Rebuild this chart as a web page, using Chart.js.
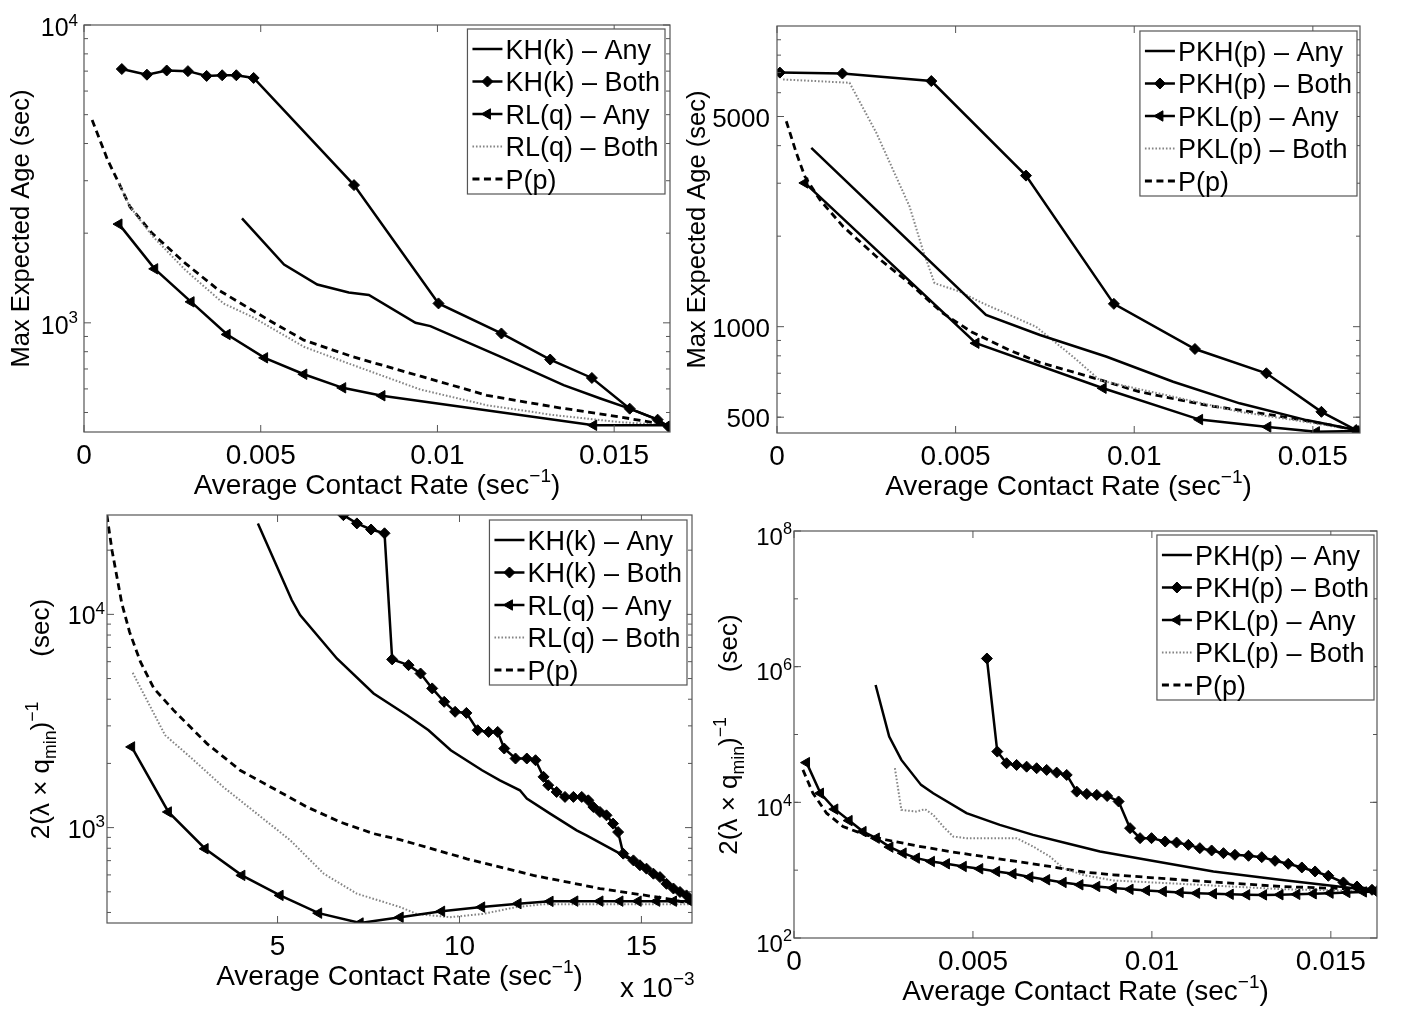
<!DOCTYPE html>
<html>
<head>
<meta charset="utf-8">
<script src="https://cdn.jsdelivr.net/npm/chart.js@4.4.1/dist/chart.umd.min.js"></script>
<style>
  html, body { margin: 0; padding: 0; background: #fff; }
  body { width: 1401px; height: 1011px; position: relative; overflow: hidden; }
  canvas { position: absolute; }
</style>
</head>
<body>
<canvas id="c1" width="680" height="505" style="left:0;top:0"></canvas>
<canvas id="c2" width="729" height="505" style="left:672px;top:0"></canvas>
<canvas id="c3" width="700" height="506" style="left:0;top:505px"></canvas>
<canvas id="c4" width="711" height="506" style="left:690px;top:505px"></canvas>
<script>
// ---- top left: max expected age, KH / RL
const p1Names = ['KH(k) – Any', 'KH(k) – Both', 'RL(q) – Any', 'RL(q) – Both', 'P(p)'];
const p1KhAnyX = [0.00447, 0.00566, 0.0066, 0.00749, 0.00806, 0.00938, 0.0098, 0.01178, 0.01357, 0.01461, 0.01544, 0.01623, 0.01654];
const p1KhAnyY = [2244, 1570, 1345, 1265, 1240, 1000, 975, 770, 618, 557, 515, 473, 448];
const p1KhBothX = [0.00107, 0.00178, 0.00234, 0.00294, 0.00347, 0.00391, 0.00431, 0.0048, 0.00764, 0.01003, 0.01181, 0.01319, 0.01437, 0.01544, 0.01623, 0.01654];
const p1KhBothY = [7115, 6810, 7035, 7000, 6745, 6780, 6780, 6640, 2900, 1162, 921, 753, 653, 515, 473, 448];
const p1RlAnyX = [0.00099, 0.002, 0.00303, 0.00405, 0.00511, 0.00622, 0.00732, 0.00843, 0.01442, 0.01654];
const p1RlAnyY = [2145, 1518, 1176, 914, 763, 672, 605, 569, 453, 453];
const p1RlBothX = [0.00099, 0.0013, 0.00193, 0.00287, 0.00395, 0.00476, 0.00622, 0.00749, 0.00952, 0.0114, 0.01329, 0.01517, 0.01654];
const p1RlBothY = [2940, 2455, 1960, 1503, 1161, 1047, 831, 730, 597, 529, 490, 464, 453];
const p1PX = [0.00023, 0.00067, 0.00099, 0.0013, 0.00193, 0.00287, 0.00381, 0.00523, 0.00622, 0.00761, 0.00952, 0.0114, 0.01329, 0.01517, 0.01654];
const p1PY = [4800, 3520, 2940, 2455, 1997, 1583, 1288, 1021, 875, 769, 662, 571, 522, 483, 453];
const p1XTicks = [0, 0.005, 0.01, 0.015];
const p1XLabels = ['0', '0.005', '0.01', '0.015'];
const p1YTicks = [1000, 10000];
const p1YLabels = ['10^3', '10^4'];

// ---- top right: max expected age, PKH / PKL
const p2Names = ['PKH(p) – Any', 'PKH(p) – Both', 'PKL(p) – Any', 'PKL(p) – Both', 'P(p)'];
const p2PkhAnyX = [0.00096, 0.00585, 0.00736, 0.00923, 0.01109, 0.01295, 0.01482, 0.01621];
const p2PkhAnyY = [3933, 1094, 938, 794, 656, 556, 489, 453];
const p2PkhBothX = [0.00008, 0.00183, 0.00432, 0.00697, 0.00943, 0.0117, 0.0137, 0.01524, 0.01621];
const p2PkhBothY = [6998, 6950, 6560, 3180, 1191, 843, 700, 521, 453];
const p2PklAnyX = [0.00078, 0.00557, 0.00913, 0.01183, 0.01374, 0.0151, 0.01621];
const p2PklAnyY = [3006, 881, 624, 491, 464, 447, 450];
const p2PklBothX = [0.00017, 0.00203, 0.00278, 0.00371, 0.00408, 0.00441, 0.00511, 0.00576, 0.00725, 0.00829, 0.00904, 0.01109, 0.01295, 0.01482, 0.01621];
const p2PklBothY = [6640, 6475, 4415, 2512, 1803, 1395, 1309, 1197, 1000, 794, 663, 585, 521, 482, 453];
const p2PX = [0.00026, 0.00054, 0.00078, 0.0012, 0.00185, 0.00278, 0.00371, 0.00464, 0.00545, 0.00656, 0.00736, 0.00876, 0.01016, 0.01202, 0.01388, 0.01528, 0.01621];
const p2PY = [4823, 3785, 3160, 2643, 2154, 1711, 1395, 1109, 960, 830, 760, 681, 607, 548, 508, 476, 453];
const p2XTicks = [0, 0.005, 0.01, 0.015];
const p2XLabels = ['0', '0.005', '0.01', '0.015'];
const p2YTicks = [500, 1000, 5000];
const p2YLabels = ['500', '1000', '5000'];

// ---- bottom left: 2(lambda x q_min)^-1, KH / RL
const p3KhAnyX = [0.00446, 0.00539, 0.00562, 0.00663, 0.00764, 0.00856, 0.00915, 0.00976, 0.01062, 0.01111, 0.01166, 0.01185, 0.01249, 0.01322, 0.01349, 0.0145, 0.01551, 0.01639];
const p3KhAnyY = [26700, 11670, 9930, 6210, 4256, 3365, 2862, 2306, 1857, 1667, 1496, 1368, 1163, 971, 920, 741, 586, 450];
const p3KhBothX = [0.00681, 0.00718, 0.00757, 0.00794, 0.00815, 0.0086, 0.00893, 0.00925, 0.00958, 0.00988, 0.01019, 0.0105, 0.0108, 0.01105, 0.01123, 0.01154, 0.01185, 0.01209, 0.01231, 0.01244, 0.01267, 0.0129, 0.01313, 0.01336, 0.01354, 0.01368, 0.01386, 0.01404, 0.01422, 0.01436, 0.0145, 0.01478, 0.01496, 0.01514, 0.01533, 0.01551, 0.01569, 0.01588, 0.01606, 0.01624, 0.01639];
const p3KhBothY = [29200, 26700, 25000, 24000, 6150, 5780, 5280, 4495, 3890, 3492, 3450, 2862, 2810, 2810, 2349, 2109, 2109, 2070, 1730, 1580, 1469, 1393, 1393, 1393, 1343, 1249, 1184, 1142, 1044, 953, 755, 702, 666, 642, 608, 586, 545, 518, 499, 481, 456];
const p3RlAnyX = [0.00099, 0.002, 0.00301, 0.00402, 0.00507, 0.00613, 0.00727, 0.00837, 0.00951, 0.01061, 0.01161, 0.01249, 0.01317, 0.01386, 0.01441, 0.01491, 0.01542, 0.01588, 0.01633];
const p3RlAnyY = [2390, 1184, 796, 597, 481, 397, 357, 380, 405, 424, 440, 451, 452, 452, 452, 452, 452, 452, 452];
const p3RlBothX = [0.00102, 0.00191, 0.0026, 0.00351, 0.00443, 0.00535, 0.00627, 0.00718, 0.00837, 0.00882, 0.00974, 0.01065, 0.01157, 0.0123, 0.01639];
const p3RlBothY = [5320, 2712, 2143, 1550, 1163, 872, 608, 490, 424, 394, 380, 394, 424, 437, 437];
const p3PX = [0.00031, 0.00045, 0.00072, 0.00093, 0.00123, 0.0016, 0.00214, 0.00306, 0.00397, 0.00489, 0.00581, 0.00672, 0.00764, 0.00836, 0.0102, 0.01203, 0.01386, 0.01569, 0.01639];
const p3PY = [29200, 20000, 11270, 8300, 6000, 4500, 3556, 2477, 1858, 1525, 1249, 1062, 937, 879, 714, 597, 518, 465, 440];
const p3XTicks = [0.005, 0.01, 0.015];
const p3XLabels = ['5', '10', '15'];
const p3YTicks = [1000, 10000];
const p3YLabels = ['10^3', '10^4'];

// ---- bottom right: 2(lambda x q_min)^-1, PKH / PKL
const p4PkhAnyX = [0.00228, 0.00266, 0.003, 0.00355, 0.00389, 0.00482, 0.00575, 0.00668, 0.00762, 0.00855, 0.00985, 0.01172, 0.01358, 0.01545, 0.01624];
const p4PkhAnyY = [536000, 93100, 42170, 18070, 13600, 6920, 4660, 3310, 2500, 1884, 1420, 957, 722, 556, 501];
const p4PkhBothX = [0.00539, 0.00568, 0.00594, 0.00622, 0.0065, 0.00678, 0.00706, 0.00734, 0.00762, 0.0079, 0.00818, 0.00846, 0.00875, 0.00907, 0.00939, 0.00967, 0.00999, 0.01037, 0.01069, 0.01102, 0.01134, 0.01167, 0.012, 0.01232, 0.0127, 0.01307, 0.01344, 0.01381, 0.01419, 0.01456, 0.01493, 0.01535, 0.01573, 0.01615, 0.01629];
const p4PkhBothY = [1320000, 56000, 37700, 35560, 33560, 31830, 30060, 27420, 25340, 14390, 13300, 12870, 12400, 10300, 4160, 2965, 2965, 2645, 2553, 2360, 2112, 1951, 1782, 1684, 1629, 1556, 1374, 1241, 1096, 957, 826, 659, 575, 514, 490];
const p4PklAnyX = [0.00035, 0.00074, 0.00114, 0.00154, 0.00193, 0.0023, 0.00268, 0.00305, 0.00342, 0.00384, 0.00426, 0.00473, 0.00519, 0.00566, 0.00612, 0.00659, 0.00706, 0.00752, 0.00799, 0.00846, 0.00892, 0.00939, 0.00985, 0.01032, 0.01079, 0.01125, 0.01172, 0.01219, 0.01265, 0.01312, 0.01358, 0.01405, 0.01451, 0.01498, 0.01545, 0.01591, 0.01624];
const p4PklAnyY = [38500, 13600, 7925, 5380, 3705, 2965, 2188, 1783, 1505, 1343, 1241, 1133, 1048, 957, 885, 791, 722, 659, 609, 575, 545, 522, 502, 485, 469, 458, 449, 441, 434, 432, 434, 440, 449, 458, 469, 478, 485];
const p4PklBothX = [0.00282, 0.003, 0.00342, 0.00366, 0.00389, 0.00417, 0.00445, 0.00482, 0.00622, 0.00668, 0.00715, 0.00752, 0.00808, 0.00892, 0.01079, 0.01358, 0.01624];
const p4PklBothY = [31860, 7745, 7310, 7925, 6530, 4395, 3130, 2965, 2965, 2233, 1587, 1072, 850, 705, 629, 526, 485];
const p4PX = [0.00025, 0.00053, 0.00091, 0.00137, 0.002, 0.00258, 0.00342, 0.00435, 0.00529, 0.00622, 0.00715, 0.00808, 0.00892, 0.01079, 0.01358, 0.01624];
const p4PY = [30060, 13600, 6920, 4395, 3310, 2798, 2284, 1884, 1587, 1343, 1133, 940, 855, 722, 575, 514];
const p4XTicks = [0, 0.005, 0.01, 0.015];
const p4XLabels = ['0', '0.005', '0.01', '0.015'];
const p4YTicks = [100, 10000, 1000000, 100000000];
const p4YLabels = ['10^2', '10^4', '10^6', '10^8'];

const FONT = '"Liberation Sans", Arial, Helvetica, sans-serif';

// line looks, in legend order: solid, diamonds, left triangles, dotted, dashed
const LOOK = [
    { borderColor: '#000', borderWidth: 2.5, pointRadius: 0 },
    { borderColor: '#000', borderWidth: 2.5, pointRadius: 5.5, pointStyle: 'rectRot' },
    { borderColor: '#000', borderWidth: 2.5, pointRadius: 6, pointStyle: 'triangle', pointRotation: -90 },
    { borderColor: '#858585', borderWidth: 2, pointRadius: 0, borderDash: [1.6, 1.9] },
    { borderColor: '#000', borderWidth: 2.8, pointRadius: 0, borderDash: [7, 4.5] }
];

function pairs(xs, ys) {
    return xs.map((x, i) => ({ x: x, y: ys[i] }));
}

function makeSets(names, list) {
    return list.map((s, i) => Object.assign({
        label: names[i],
        data: pairs(s[0], s[1]),
        showLine: true,
        tension: 0,
        pointBackgroundColor: '#000',
        pointBorderColor: '#000',
        pointBorderWidth: 1
    }, LOOK[i]));
}

// "10^4" -> ['10', {t:'4', sup:true}]
function toParts(label) {
    const k = label.indexOf('^');
    if (k < 0) return [label];
    return [label.slice(0, k), { t: label.slice(k + 1), sup: true }];
}

function drawRich(ctx, parts, x, y, size, align) {
    const items = parts.map(p => {
        if (typeof p === 'string') return { t: p, size: size, dy: 0 };
        if (p.gap) return { gap: p.gap };
        return { t: p.t, size: size * 0.68, dy: p.sup ? -size * 0.42 : size * 0.27 };
    });
    let w = 0;
    items.forEach(it => {
        if (it.gap) { it.w = it.gap; }
        else { ctx.font = it.size + 'px ' + FONT; it.w = ctx.measureText(it.t).width; }
        w += it.w;
    });
    let cx = align === 'center' ? x - w / 2 : (align === 'right' ? x - w : x);
    ctx.textAlign = 'left';
    ctx.textBaseline = 'alphabetic';
    items.forEach(it => {
        if (!it.gap) {
            ctx.font = it.size + 'px ' + FONT;
            ctx.fillText(it.t, cx, y + it.dy);
        }
        cx += it.w;
    });
}

const xTitle = ['Average Contact Rate (sec', { t: '−1', sup: true }, ')'];
const ageTitle = ['Max Expected Age (sec)'];
const lamTitle = ['2(λ × q', { t: 'min', sub: true }, ')', { t: '−1', sup: true }, { gap: 45 }, '(sec)'];

const panels = [
    {
        id: 'c1', w: 680, h: 505, area: [84, 25, 670, 432],
        xMin: 0, xMax: 0.01658, yMin: 430, yMax: 10000,
        xTicks: p1XTicks, xLabels: p1XLabels, yTicks: p1YTicks, yLabels: p1YLabels,
        minor: [2, 3, 4, 5, 6, 7, 8, 9], yFont: 25, yGap: 6, yDy: 11,
        yTitle: ageTitle, yTitleSize: 25.5, yTitleX: 20,
        legRight: 5, legTop: 4,
        sets: makeSets(p1Names, [[p1KhAnyX, p1KhAnyY], [p1KhBothX, p1KhBothY], [p1RlAnyX, p1RlAnyY], [p1RlBothX, p1RlBothY], [p1PX, p1PY]])
    },
    {
        id: 'c2', w: 729, h: 505, area: [105, 26, 688, 433],
        xMin: 0, xMax: 0.01632, yMin: 443, yMax: 10000,
        xTicks: p2XTicks, xLabels: p2XLabels, yTicks: p2YTicks, yLabels: p2YLabels,
        minor: [2, 3, 4, 5, 6, 7, 8, 9], yFont: 26, yGap: 7, yDy: 10,
        yTitle: ageTitle, yTitleSize: 25.5, yTitleX: 24,
        legRight: 3, legTop: 5,
        sets: makeSets(p2Names, [[p2PkhAnyX, p2PkhAnyY], [p2PkhBothX, p2PkhBothY], [p2PklAnyX, p2PklAnyY], [p2PklBothX, p2PklBothY], [p2PX, p2PY]])
    },
    {
        id: 'c3', w: 700, h: 506, area: [107, 10, 692, 418],
        xMin: 0.000313, xMax: 0.01639, yMin: 357, yMax: 29240,
        xTicks: p3XTicks, xLabels: p3XLabels, yTicks: p3YTicks, yLabels: p3YLabels,
        minor: [2, 3, 4, 5, 6, 7, 8, 9], yFont: 25, yGap: 2, yDy: 10,
        yTitle: lamTitle, yTitleSize: 26, yTitleX: 40,
        legRight: 5, legTop: 5, multiplier: true,
        sets: makeSets(p1Names, [[p3KhAnyX, p3KhAnyY], [p3KhBothX, p3KhBothY], [p3RlAnyX, p3RlAnyY], [p3RlBothX, p3RlBothY], [p3PX, p3PY]])
    },
    {
        id: 'c4', w: 711, h: 506, area: [104, 26, 687, 433],
        xMin: 0, xMax: 0.01629, yMin: 100, yMax: 100000000,
        xTicks: p4XTicks, xLabels: p4XLabels, yTicks: p4YTicks, yLabels: p4YLabels,
        minor: [10], yFont: 24, yGap: 2, yDy: 13.5,
        yTitle: lamTitle, yTitleSize: 26, yTitleX: 38,
        legRight: 3, legTop: 4,
        sets: makeSets(p2Names, [[p4PkhAnyX, p4PkhAnyY], [p4PkhBothX, p4PkhBothY], [p4PklAnyX, p4PklAnyY], [p4PklBothX, p4PklBothY], [p4PX, p4PY]])
    }
];

const panelById = {};
panels.forEach(p => { panelById[p.id] = p; });

// box, inward ticks, labels, titles and legend, drawn the way the original figure looks
const matlabLook = {
    id: 'matlabLook',
    afterDraw(chart) {
        const p = panelById[chart.canvas.id];
        const ctx = chart.ctx, a = chart.chartArea;
        const xs = chart.scales.x, ys = chart.scales.y;
        ctx.save();
        ctx.strokeStyle = '#555';
        ctx.lineWidth = 1.2;
        ctx.strokeRect(a.left, a.top, a.right - a.left, a.bottom - a.top);

        const seg = (x1, y1, x2, y2) => {
            ctx.beginPath(); ctx.moveTo(x1, y1); ctx.lineTo(x2, y2); ctx.stroke();
        };
        ctx.lineWidth = 1;
        p.xTicks.forEach(v => {
            const x = xs.getPixelForValue(v);
            seg(x, a.bottom, x, a.bottom - 7);
            seg(x, a.top, x, a.top + 7);
        });
        p.yTicks.forEach(v => {
            const y = ys.getPixelForValue(v);
            seg(a.left, y, a.left + 7, y);
            seg(a.right, y, a.right - 7, y);
        });
        for (let d = Math.pow(10, Math.floor(Math.log10(p.yMin))); d < p.yMax; d *= 10) {
            p.minor.forEach(m => {
                const v = d * m;
                if (v > p.yMin && v < p.yMax) {
                    const y = ys.getPixelForValue(v);
                    seg(a.left, y, a.left + 4, y);
                    seg(a.right, y, a.right - 4, y);
                }
            });
        }

        ctx.fillStyle = '#000';
        ctx.font = '28px ' + FONT;
        ctx.textAlign = 'center';
        ctx.textBaseline = 'alphabetic';
        p.xTicks.forEach((v, i) => {
            ctx.fillText(p.xLabels[i], xs.getPixelForValue(v), a.bottom + 32);
        });
        p.yTicks.forEach((v, i) => {
            drawRich(ctx, toParts(p.yLabels[i]), a.left - p.yGap, ys.getPixelForValue(v) + p.yDy, p.yFont, 'right');
        });

        drawRich(ctx, xTitle, (a.left + a.right) / 2, a.bottom + 62, 28, 'center');
        if (p.multiplier) {
            drawRich(ctx, ['x 10', { t: '−3', sup: true }], 620, a.bottom + 74, 28, 'left');
        }
        ctx.save();
        ctx.translate(p.yTitleX, (a.top + a.bottom) / 2);
        ctx.rotate(-Math.PI / 2);
        drawRich(ctx, p.yTitle, 0, p.yTitleSize * 0.36, p.yTitleSize, 'center');
        ctx.restore();

        // legend
        const sets = chart.data.datasets;
        ctx.font = '27px ' + FONT;
        const tw = Math.max.apply(null, sets.map(d => ctx.measureText(d.label).width));
        const bw = 38 + tw + 5, bh = 165;
        const bx = a.right - p.legRight - bw, by = a.top + p.legTop;
        ctx.fillStyle = '#fff';
        ctx.fillRect(bx, by, bw, bh);
        ctx.strokeStyle = '#555';
        ctx.lineWidth = 1.2;
        ctx.strokeRect(bx, by, bw, bh);
        sets.forEach((d, i) => {
            const y = by + 20 + i * 32.5;
            ctx.save();
            ctx.strokeStyle = d.borderColor;
            ctx.lineWidth = d.borderWidth;
            ctx.setLineDash(d.borderDash || []);
            seg(bx + 5, y, bx + 35, y);
            ctx.setLineDash([]);
            if (d.pointRadius > 0 && Chart.helpers && Chart.helpers.drawPoint) {
                ctx.fillStyle = '#000';
                ctx.strokeStyle = '#000';
                ctx.lineWidth = 1;
                Chart.helpers.drawPoint(ctx, {
                    pointStyle: d.pointStyle, rotation: d.pointRotation || 0,
                    radius: d.pointRadius, borderWidth: 1
                }, bx + 20, y);
            }
            ctx.restore();
            ctx.fillStyle = '#000';
            ctx.font = '27px ' + FONT;
            ctx.textAlign = 'left';
            ctx.textBaseline = 'alphabetic';
            ctx.fillText(d.label, bx + 38, y + 9.7);
        });
        ctx.restore();
    }
};

panels.forEach(p => {
    const a = p.area;
    new Chart(document.getElementById(p.id), {
        type: 'scatter',
        data: { datasets: p.sets },
        options: {
            responsive: false,
            animation: false,
            events: [],
            layout: {
                autoPadding: false,
                padding: { left: 0, top: a[1], right: p.w - a[2], bottom: 0 }
            },
            plugins: {
                legend: { display: false },
                tooltip: { enabled: false }
            },
            scales: {
                x: {
                    type: 'linear', min: p.xMin, max: p.xMax,
                    grid: { display: false }, border: { display: false },
                    ticks: { display: false },
                    afterFit: s => { s.height = p.h - a[3]; }
                },
                y: {
                    type: 'logarithmic', min: p.yMin, max: p.yMax,
                    grid: { display: false }, border: { display: false },
                    ticks: { display: false },
                    afterFit: s => { s.width = a[0]; }
                }
            }
        },
        plugins: [matlabLook]
    });
});
</script>
</body>
</html>
